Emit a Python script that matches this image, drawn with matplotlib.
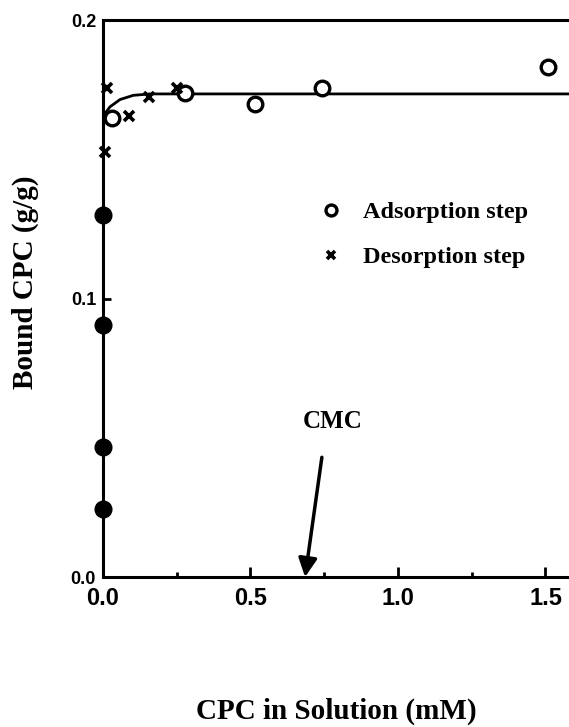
import matplotlib
matplotlib.use("Agg")
import matplotlib.pyplot as plt
from matplotlib.ticker import MultipleLocator

# ---- data ----
ads_x = [0.029, 0.278, 0.515, 0.744, 1.507]
ads_y = [0.1647, 0.1737, 0.1698, 0.1755, 0.1832]

des_x = [0.007, 0.0125, 0.089, 0.157, 0.250]
des_y = [0.1527, 0.1755, 0.1655, 0.1725, 0.1755]

init_x = [0.0, 0.0, 0.0, 0.0]
init_y = [0.0244, 0.0467, 0.0905, 0.1300]

fit_x = [0.0, 0.0, 0.007, 0.024, 0.058, 0.103, 0.160, 0.30, 1.60]
fit_y = [0.0, 0.1600, 0.1665, 0.1689, 0.1715, 0.1730, 0.1735, 0.1735, 0.1735]

cmc_x = 0.685
xticks = [0.0, 0.5, 1.0, 1.5]
xtick_labels = ["0.0", "0.5", "1.0", "1.5"]
yticks = [0.0, 0.1, 0.2]
ytick_labels = ["0.0", "0.1", "0.2"]

serif = ["Liberation Serif", "DejaVu Serif"]
sans = ["Liberation Sans", "DejaVu Sans"]

fig = plt.figure(figsize=(5.69, 7.27), dpi=100)
ax = fig.add_axes([0.181, 0.2063, 0.8295, 0.766])

ax.plot(fit_x, fit_y, color="black", lw=2.0, zorder=2)
ax.plot(init_x, init_y, "o", color="black", ms=12, zorder=3, clip_on=False)
ax.plot(ads_x, ads_y, "o", mfc="white", mec="black", mew=2.4, ms=10.5,
        zorder=4, label="Adsorption step", clip_on=False)
ax.plot(des_x, des_y, "x", color="black", mew=2.6, ms=7,
        zorder=4, label="Desorption step", clip_on=False)

ax.set_xlim(0, 1.6)
ax.set_ylim(0, 0.2)

for side in ["left", "bottom", "top"]:
    ax.spines[side].set_linewidth(2.2)
ax.spines["right"].set_visible(False)

ax.set_xticks(xticks)
ax.set_xticklabels(xtick_labels, fontfamily=sans, fontweight="bold", fontsize=17)
ax.xaxis.set_minor_locator(MultipleLocator(0.25))
ax.set_yticks(yticks)
ax.set_yticklabels(ytick_labels, fontfamily=sans, fontweight="bold", fontsize=13)
ax.tick_params(axis="x", which="major", direction="in", length=7, width=2, pad=7)
ax.tick_params(axis="x", which="minor", direction="in", length=3.5, width=2)
ax.tick_params(axis="y", which="major", direction="in", length=6, width=2, pad=5)

ax.set_ylabel("Bound CPC (g/g)", fontfamily=serif, fontweight="bold",
              fontsize=21)
ax.yaxis.set_label_coords(-0.136, 0.53)
fig.text(0.591, 0.021, "CPC in Solution (mM)", ha="center", va="center",
         fontfamily=serif, fontweight="bold", fontsize=21)

ax.annotate("", xy=(cmc_x, 0.0), xytext=(0.742, 0.043),
            arrowprops=dict(arrowstyle="-|>", lw=2.5, color="black",
                            mutation_scale=28, shrinkA=0, shrinkB=0))
ax.text(0.78, 0.0557, "CMC", ha="center", va="center",
        fontfamily=serif, fontweight="bold", fontsize=18)

leg = ax.legend(loc="center left", bbox_to_anchor=(0.4105, 0.6146), frameon=False,
                prop=dict(family=serif, weight="bold", size=17.5),
                handletextpad=0.83, labelspacing=0.93, markerscale=0.75,
                handlelength=1.0)

fig.savefig("out.png", dpi=100)
